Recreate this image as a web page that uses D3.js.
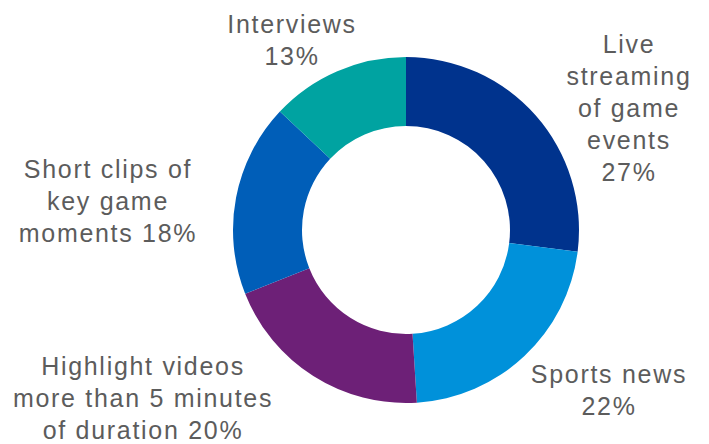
<!DOCTYPE html>
<html>
<head>
<meta charset="utf-8">
<script src="https://cdn.jsdelivr.net/npm/d3@7"></script>
<style>
  html, body { margin: 0; padding: 0; background: #ffffff; }
  svg { display: block; }
</style>
</head>
<body>
<svg id="chart" width="709" height="444"></svg>
<script>
// Share of viewing by content type (%)
const categories = [
  "Live streaming of game events",
  "Sports news",
  "Highlight videos more than 5 minutes of duration",
  "Short clips of key game moments",
  "Interviews"
];
const values = [27, 22, 20, 18, 13];
const sliceColors = ["#00338D", "#0091DA", "#6D2077", "#005EB8", "#00A3A1"];

// How each category name wraps in its label; the percentage goes either on
// its own line or at the end of the last line.
const labelLines = [
  ["Live", "streaming", "of game", "events"],
  ["Sports news"],
  ["Highlight videos", "more than 5 minutes", "of duration"],
  ["Short clips of", "key game", "moments"],
  ["Interviews"]
];
const pctOwnLine = [true, true, false, false, true];

// Label placement: centre x and first baseline, relative to the donut centre
const labelLayout = [
  { dx: 223, dy: -177 },
  { dx: 203, dy: 153 },
  { dx: -263, dy: 145 },
  { dx: -298, dy: -52 },
  { dx: -114, dy: -197 }
];

const width = 709, height = 444;
const cx = 406, cy = 230;
const outerR = 173, innerR = 104;
const lineGap = 32;

const data = categories.map((c, i) => ({ category: c, value: values[i], index: i }));

const svg = d3.select("#chart");
const g = svg.append("g").attr("transform", `translate(${cx},${cy})`);

const color = d3.scaleOrdinal().domain(categories).range(sliceColors);

const pie = d3.pie()
  .sort(null)
  .value(d => d.value)
  .startAngle(0)
  .endAngle(2 * Math.PI);

const arc = d3.arc().innerRadius(innerR).outerRadius(outerR);

g.selectAll("path.slice")
  .data(pie(data))
  .join("path")
  .attr("class", "slice")
  .attr("d", arc)
  .attr("fill", d => color(d.data.category));

// Labels
const labels = g.selectAll("text.label")
  .data(data)
  .join("text")
  .attr("class", "label")
  .attr("text-anchor", "middle")
  .attr("font-family", "'Liberation Sans', Arial, Helvetica, sans-serif")
  .attr("font-size", 25)
  .attr("letter-spacing", 1.7)
  .attr("fill", "#5c5c5c");

labels.each(function (d) {
  const i = d.index;
  const pct = `${d.value}%`;
  const lines = labelLines[i].slice();
  if (pctOwnLine[i]) lines.push(pct);
  else lines[lines.length - 1] = lines[lines.length - 1] + " " + pct;
  const lay = labelLayout[i];
  d3.select(this).selectAll("tspan")
    .data(lines)
    .join("tspan")
    .attr("x", lay.dx)
    .attr("y", (t, k) => lay.dy + k * lineGap)
    .text(t => t);
});
</script>
</body>
</html>
